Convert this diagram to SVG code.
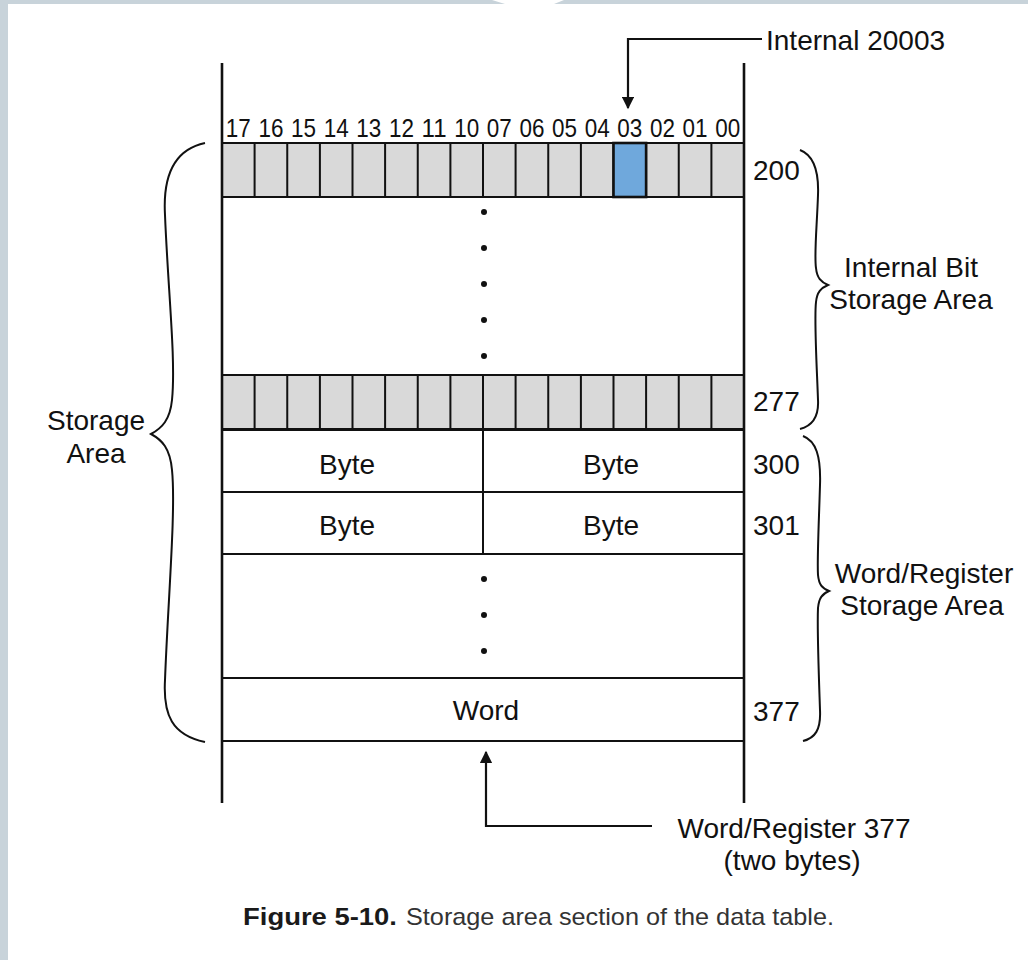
<svg xmlns="http://www.w3.org/2000/svg" width="1028" height="960" viewBox="0 0 1028 960">
<style>
.t{font-family:"Liberation Sans",Arial,sans-serif;font-size:28px;fill:#111}
.bn{font-family:"Liberation Sans",Arial,sans-serif;font-size:25px;fill:#111;text-anchor:middle}
.c{text-anchor:middle}
.ln{stroke:#111;stroke-width:2.2;fill:none}
.cell{fill:#d9d9d9;stroke:#111;stroke-width:2}
.row{fill:#fff;stroke:#111;stroke-width:2}
.br{stroke:#111;stroke-width:2;fill:none}
.dot{fill:#111}
</style>
<defs>
<marker id="ah" viewBox="0 0 10 10" refX="9" refY="5" markerWidth="6" markerHeight="5.5" orient="auto" markerUnits="strokeWidth">
<path d="M0,0 L10,5 L0,10 z" fill="#111"/>
</marker>
<g id="bits">
<rect x="222" y="0" width="522" height="54" class="cell"/>
<path class="ln" style="stroke-width:2" d="M254.6,0V54M287.25,0V54M319.9,0V54M352.5,0V54M385.1,0V54M417.75,0V54M450.4,0V54M483,0V54M515.6,0V54M548.25,0V54M580.9,0V54M613.5,0V54M646.1,0V54M678.75,0V54M711.4,0V54"/>
</g>
</defs>
<rect width="1028" height="960" fill="#fff"/>
<g id="frame" fill="#c8d3da">
<path d="M0,0H492L505,4H554L564,0H1028V4H8V960H0z"/>
</g>

<g id="bit-numbers">
<text class="bn" x="238.3" y="137" textLength="25" lengthAdjust="spacingAndGlyphs">17</text>
<text class="bn" x="270.9" y="137" textLength="25" lengthAdjust="spacingAndGlyphs">16</text>
<text class="bn" x="303.6" y="137" textLength="25" lengthAdjust="spacingAndGlyphs">15</text>
<text class="bn" x="336.2" y="137" textLength="25" lengthAdjust="spacingAndGlyphs">14</text>
<text class="bn" x="368.8" y="137" textLength="25" lengthAdjust="spacingAndGlyphs">13</text>
<text class="bn" x="401.4" y="137" textLength="25" lengthAdjust="spacingAndGlyphs">12</text>
<text class="bn" x="434.1" y="137" textLength="25" lengthAdjust="spacingAndGlyphs">11</text>
<text class="bn" x="466.7" y="137" textLength="25" lengthAdjust="spacingAndGlyphs">10</text>
<text class="bn" x="499.3" y="137" textLength="25" lengthAdjust="spacingAndGlyphs">07</text>
<text class="bn" x="531.9" y="137" textLength="25" lengthAdjust="spacingAndGlyphs">06</text>
<text class="bn" x="564.6" y="137" textLength="25" lengthAdjust="spacingAndGlyphs">05</text>
<text class="bn" x="597.2" y="137" textLength="25" lengthAdjust="spacingAndGlyphs">04</text>
<text class="bn" x="629.8" y="137" textLength="25" lengthAdjust="spacingAndGlyphs">03</text>
<text class="bn" x="662.4" y="137" textLength="25" lengthAdjust="spacingAndGlyphs">02</text>
<text class="bn" x="695.1" y="137" textLength="25" lengthAdjust="spacingAndGlyphs">01</text>
<text class="bn" x="727.7" y="137" textLength="25" lengthAdjust="spacingAndGlyphs">00</text>
</g>

<g id="row-200">
<use href="#bits" y="143"/>
<rect x="613.5" y="143" width="32.6" height="54" fill="#6fa8dc" stroke="#111" stroke-width="2.6"/>
<text class="t" x="753" y="180">200</text>
</g>

<g id="row-dots-bits">
<circle class="dot" cx="484" cy="212" r="3"/>
<circle class="dot" cx="484" cy="248" r="3"/>
<circle class="dot" cx="484" cy="284" r="3"/>
<circle class="dot" cx="484" cy="320" r="3"/>
<circle class="dot" cx="484" cy="356" r="3"/>
</g>

<g id="row-277">
<use href="#bits" y="375"/>
<text class="t" x="753" y="411">277</text>
</g>

<g id="row-300">
<rect class="row" x="222" y="430" width="522" height="62"/>
<line class="ln" style="stroke-width:2" x1="483" y1="430" x2="483" y2="492"/>
<text class="t c" x="347" y="474">Byte</text>
<text class="t c" x="611" y="474">Byte</text>
<text class="t" x="753" y="474">300</text>
</g>

<g id="row-301">
<rect class="row" x="222" y="492" width="522" height="62"/>
<line class="ln" style="stroke-width:2" x1="483" y1="492" x2="483" y2="554"/>
<text class="t c" x="347" y="535">Byte</text>
<text class="t c" x="611" y="535">Byte</text>
<text class="t" x="753" y="535">301</text>
</g>

<g id="row-dots-words">
<circle class="dot" cx="484" cy="579" r="3"/>
<circle class="dot" cx="484" cy="615" r="3"/>
<circle class="dot" cx="484" cy="651" r="3"/>
</g>

<g id="row-377">
<rect class="row" x="222" y="678" width="522" height="63"/>
<text class="t c" x="486" y="720">Word</text>
<text class="t" x="753" y="721">377</text>
</g>

<g id="table-walls">
<line class="ln" style="stroke-width:2.6" x1="222" y1="63" x2="222" y2="803"/>
<line class="ln" style="stroke-width:2.6" x1="744" y1="63" x2="744" y2="803"/>
</g>

<g id="storage-area">
<path class="br" d="M205,143 C172,150 163,180 165,215 C168,290 176,360 172,400 C170,420 162,428 151,434 C162,440 170,448 172,470 C176,510 168,600 165,680 C163,715 172,735 205,742"/>
<text class="t c" x="96" y="430">Storage</text>
<text class="t c" x="96" y="463">Area</text>
</g>

<g id="internal-bit-area">
<path class="br" d="M800,150 C813,155 819,170 818,195 C817,225 814,255 816,268 C817,278 821,282 828,285 C821,288 817,292 816,302 C814,320 817,370 818,400 C819,418 812,426 800,429"/>
<text class="t c" x="911" y="277">Internal Bit</text>
<text class="t c" x="911" y="309">Storage Area</text>
</g>

<g id="word-register-area">
<path class="br" d="M803,436 C816,441 821,456 820,485 C819,520 817,560 818,575 C819,585 822,588 829,591 C822,594 819,598 818,608 C817,630 819,680 820,710 C821,730 815,738 803,741"/>
<text class="t c" x="924" y="583">Word/Register</text>
<text class="t c" x="922" y="615">Storage Area</text>
</g>

<g id="connectors">
<path class="ln" marker-end="url(#ah)" d="M762,39 H628 V108"/>
<path class="ln" marker-end="url(#ah)" d="M652,826 H486 V752"/>
</g>

<g id="label-internal">
<text class="t" x="766" y="50">Internal 20003</text>
</g>

<g id="label-word-register">
<text class="t c" x="794" y="838">Word/Register 377</text>
<text class="t c" x="792" y="870">(two bytes)</text>
</g>

<g id="caption">
<text x="243" y="925" style="font-family:'Liberation Sans',Arial,sans-serif;font-size:24px;fill:#1a1a1a"><tspan font-weight="bold" textLength="154" lengthAdjust="spacingAndGlyphs">Figure 5-10.</tspan><tspan x="406" fill="#333" textLength="428" lengthAdjust="spacingAndGlyphs">Storage area section of the data table.</tspan></text>
</g>
</svg>
